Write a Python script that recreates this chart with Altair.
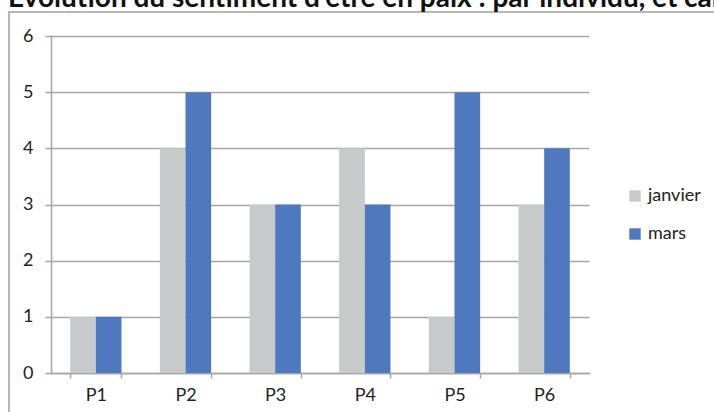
import altair as alt
import pandas as pd

# Data
people = ["P1", "P2", "P3", "P4", "P5", "P6"]
janvier = [1, 4, 3, 4, 1, 3]
mars = [1, 5, 3, 3, 5, 4]
series_names = ["janvier", "mars"]
series_colors = ["#c8c9cb", "#4f78be"]
title_text = "Evolution du sentiment d'être en paix : par individu, et car"

rows = []
for p, j, m in zip(people, janvier, mars):
    rows.append({"personne": p, "mois": "janvier", "valeur": j})
    rows.append({"personne": p, "mois": "mars", "valeur": m})
df = pd.DataFrame(rows)

FONT = "Lato"
GRID = "#a6a6a6"
TXT = "#222222"
W, H = 538, 337

bars = alt.Chart(df).mark_bar().encode(
    x=alt.X(
        "personne:N",
        sort=people,
        scale=alt.Scale(paddingInner=0.428, paddingOuter=0.214),
        axis=alt.Axis(
            title=None, labelAngle=0, tickBand="extent", domainColor=GRID,
            domainWidth=1.5, tickColor=GRID, tickWidth=1.5, tickSize=5,
            labelPadding=8, labelFont=FONT, labelFontSize=18, labelColor=TXT,
            grid=False,
        ),
    ),
    xOffset=alt.XOffset("mois:N", sort=series_names,
                        scale=alt.Scale(paddingInner=0, paddingOuter=0)),
    y=alt.Y(
        "valeur:Q",
        scale=alt.Scale(domain=[0, 6], nice=False),
        axis=alt.Axis(
            title=None, values=[0, 1, 2, 3, 4, 5, 6], domainColor=GRID,
            domainWidth=1.5, tickColor=GRID, tickWidth=1.5, tickSize=6,
            gridColor=GRID, gridWidth=1.5, labelPadding=12, labelFont=FONT,
            labelFontSize=18, labelColor=TXT,
        ),
    ),
    color=alt.Color(
        "mois:N",
        sort=series_names,
        scale=alt.Scale(domain=series_names, range=series_colors),
        legend=alt.Legend(
            title=None, orient="none", legendX=575, legendY=151,
            symbolType="square", symbolSize=130, symbolStrokeWidth=0,
            labelFont=FONT, labelFontSize=18, labelColor=TXT,
            labelOffset=4, rowPadding=20,
        ),
    ),
)

one = pd.DataFrame({"k": [0]})

# outer chart frame, extending past the right and bottom edges
frame = alt.Chart(one).mark_rect(
    fill=None, stroke="#a0a0a0", strokeWidth=1.5
).encode(
    x=alt.value(-42), x2=alt.value(720), y=alt.value(-24), y2=alt.value(420)
)

# chart title, partly above the top edge
title = alt.Chart(one).mark_text(
    text=title_text, align="left", baseline="alphabetic",
    font=FONT, fontSize=28, fontWeight="bold", color="#111111",
).encode(x=alt.value(-43), y=alt.value(-29))

chart = alt.layer(frame, bars, title).properties(
    width=W, height=H,
    padding={"left": 51, "top": 36, "right": 125, "bottom": 39},
    autosize=alt.AutoSizeParams(type="none"),
).configure_view(stroke=None).configure_axis(domainCap="square")

chart.save("out.html", embed_options={"renderer": "svg", "actions": False})
